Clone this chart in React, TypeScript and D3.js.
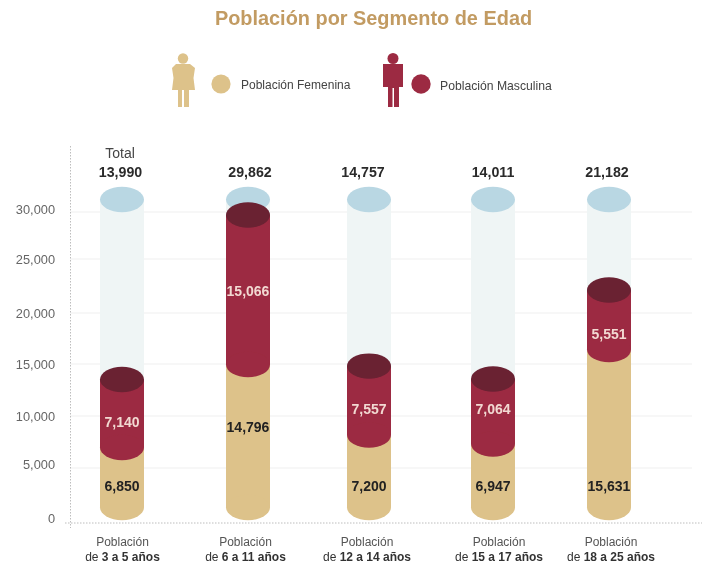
import React from "react";
import * as d3 from "d3";

const title = "Población por Segmento de Edad";
const ageLines = ["3 a 5 años", "6 a 11 años", "12 a 14 años", "15 a 17 años", "18 a 25 años"];
const totals = [13990, 29862, 14757, 14011, 21182];
const femaleValues = [6850, 14796, 7200, 6947, 15631];
const maleValues = [7140, 15066, 7557, 7064, 5551];

// The printed cylinders do not follow their labels exactly, so the levels are read from the picture.
const femaleLevels = [6970, 14950, 8170, 7310, 16420];
const maleLevels = [13510, 29680, 14800, 13560, 22130];
const trackLevel = 31330;
const baseLevel = 1410;
const femaleLabelLevels = [3360, 8940, 3360, 3360, 3360];
const maleLabelLevels = [9420, 22040, 10670, 10670, 17940];

const ticks = [0, 5000, 10000, 15000, 20000, 25000, 30000];

const fontFamily = "'Liberation Sans', Arial, sans-serif";
const gold = "#DDC28A";
const red = "#9C2B42";
const darkRed = "#6A2133";
const track = "#EFF5F5";
const trackTop = "#B9D7E3";

const y = d3.scaleLinear().domain(ticks).range([523, 468, 416, 364, 313, 259, 212]);
const tickLabelY = d3.scaleLinear().domain(ticks).range([518, 464, 416, 364, 313, 259, 209]);
const x = d3.scaleLinear().domain([0, 1, 2, 3, 4]).range([122, 248, 369, 493, 609]);
const totalX = d3.scaleLinear().domain([0, 1, 2, 3, 4]).range([120.5, 250, 363, 493, 607]);
const catX = d3.scaleLinear().domain([0, 1, 2, 3, 4]).range([122.5, 245.5, 367, 499, 611]);
const fmt = d3.format(",");

const BAR_W = 44;
const RY = 12.7;

export default function App() {
  return (
    <svg
      width={705}
      height={568}
      style={{ position: "fixed", left: 0, top: 0, background: "#fff", fontFamily }}
    >
      <defs>
        <filter id="soft" x="-5%" y="-5%" width="110%" height="110%">
          <feGaussianBlur stdDeviation="0.45" />
        </filter>
      </defs>
      <g filter="url(#soft)">
        <text x={373.5} y={18} textAnchor="middle" dominantBaseline="central" fontSize={19.9} fontWeight={700} fill="#C29B62">
          {title}
        </text>

        {/* legend */}
        <g fill={gold}>
          <circle cx={183} cy={58.5} r={5.2} />
          <path d="M176 64H190L195 68L193.5 78L195 90H189V107H184V90H182V107H178V90H172L173.5 78L172 68Z" />
          <circle cx={221} cy={84} r={9.6} />
        </g>
        <text x={241} y={85} dominantBaseline="central" fontSize={12} fill="#444">Población Femenina</text>
        <g fill={red}>
          <circle cx={393} cy={58.5} r={5.5} />
          <path d="M383 64H403V87H399V107H394V88H392.5V107H388V87H383Z" />
          <circle cx={421} cy={84} r={9.7} />
        </g>
        <text x={440} y={86} dominantBaseline="central" fontSize={12.2} fill="#444">Población Masculina</text>

        {/* grid */}
        {ticks.slice(1).map((t) => (
          <line key={t} x1={70} x2={692} y1={y(t)} y2={y(t)} stroke="#EFEFEF" strokeWidth={1} />
        ))}
        <line x1={65} x2={702} y1={y(0)} y2={y(0)} stroke="#BDBDBD" strokeWidth={1} strokeDasharray="1.5 1.5" />
        <line x1={70.5} x2={70.5} y1={146} y2={528} stroke="#BDBDBD" strokeWidth={1} strokeDasharray="1.5 1.5" />
        {ticks.map((t) => (
          <text key={t} x={55} y={tickLabelY(t)} textAnchor="end" dominantBaseline="central" fontSize={12.8} fill="#666">
            {t === 0 ? "0" : fmt(t)}
          </text>
        ))}

        {/* cylinders */}
        {totals.map((total, i) => {
          const cx = x(i);
          const left = cx - BAR_W / 2;
          const yTrack = y(trackLevel);
          const yBase = y(baseLevel);
          const yFemale = y(femaleLevels[i]);
          const yMale = y(maleLevels[i]);
          return (
            <g key={i}>
              <rect x={left} y={yTrack} width={BAR_W} height={yMale - yTrack} fill={track} />
              <ellipse cx={cx} cy={yTrack} rx={BAR_W / 2} ry={RY} fill={trackTop} />
              <rect x={left} y={yFemale} width={BAR_W} height={yBase - yFemale} fill={gold} />
              <ellipse cx={cx} cy={yBase} rx={BAR_W / 2} ry={RY} fill={gold} />
              <rect x={left} y={yMale} width={BAR_W} height={yFemale - yMale} fill={red} />
              <ellipse cx={cx} cy={yFemale} rx={BAR_W / 2} ry={RY} fill={red} />
              <ellipse cx={cx} cy={yMale} rx={BAR_W / 2} ry={RY} fill={darkRed} />
              <text x={cx} y={y(femaleLabelLevels[i])} textAnchor="middle" dominantBaseline="central" fontSize={14} fontWeight={700} fill="#222">
                {fmt(femaleValues[i])}
              </text>
              <text x={cx} y={y(maleLabelLevels[i])} textAnchor="middle" dominantBaseline="central" fontSize={14} fontWeight={700} fill="#F2D9D2">
                {fmt(maleValues[i])}
              </text>
              <text x={totalX(i)} y={172} textAnchor="middle" dominantBaseline="central" fontSize={14.2} fontWeight={700} fill="#2a2a2a">
                {fmt(total)}
              </text>
              <text x={catX(i)} y={542} textAnchor="middle" dominantBaseline="central" fontSize={12} fill="#555">
                Población
              </text>
              <text x={catX(i)} y={557} textAnchor="middle" dominantBaseline="central" fontSize={12} fill="#333">
                <tspan>de </tspan>
                <tspan fontWeight={700}>{ageLines[i]}</tspan>
              </text>
            </g>
          );
        })}
        <text x={120} y={153} textAnchor="middle" dominantBaseline="central" fontSize={14} fill="#444">Total</text>
      </g>
    </svg>
  );
}
